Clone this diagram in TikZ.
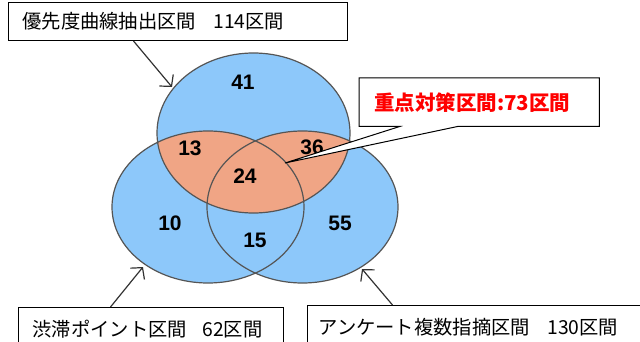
\documentclass[tikz,border=0pt]{standalone}
\usepackage{fontspec}
\setmainfont{Liberation Sans}
\newfontfamily\cjk{Noto Sans CJK JP}
\usetikzlibrary{arrows.meta}
\definecolor{vblue}{RGB}{141,200,250}
\definecolor{vpink}{RGB}{240,165,133}
\definecolor{vline}{RGB}{85,85,85}
\definecolor{arrgray}{RGB}{50,50,50}
\begin{document}
\begin{tikzpicture}[x=1pt,y=-1pt,
  lbl/.style={draw=black, line width=1pt, fill=white, inner ysep=0pt, align=left,
    font=\cjk\fontsize{19.3}{22}\selectfont, anchor=north west},
  num/.style={font=\bfseries\fontsize{21}{24}\selectfont},
  arr/.style={draw=arrgray, line width=1.2pt, -{Straight Barb[length=8pt,width=18pt]}},
  venn/.style={draw=vline, line width=1.2pt}]
\useasboundingbox (0,0) rectangle (640,342);
\clip (0,0) rectangle (640,342);
% Venn fills
\fill[vblue] (253.5,133) ellipse [x radius=96.5pt, y radius=80pt];
\fill[vblue] (208,207) ellipse [x radius=96pt, y radius=76pt];
\fill[vblue] (302.5,207) ellipse [x radius=95.5pt, y radius=76pt];
\begin{scope}
  \clip (253.5,133) ellipse [x radius=96.5pt, y radius=80pt];
  \fill[vpink] (208,207) ellipse [x radius=96pt, y radius=76pt];
  \fill[vpink] (302.5,207) ellipse [x radius=95.5pt, y radius=76pt];
\end{scope}
\draw[venn] (253.5,133) ellipse [x radius=96.5pt, y radius=80pt];
\draw[venn] (208,207) ellipse [x radius=96pt, y radius=76pt];
\draw[venn] (302.5,207) ellipse [x radius=95.5pt, y radius=76pt];
% numbers
\node[num] (n41) at (243,82) {41};
\node[num] (n13) at (190,148) {13};
\node[num] (n36) at (312,147) {36};
\node[num] (n24) at (245,176) {24};
\node[num] (n10) at (170,223) {10};
\node[num] (n15) at (255,240) {15};
\node[num] (n55) at (340,223) {55};
% label boxes
\node[lbl, inner xsep=14pt, minimum width=339pt, text width=311pt, minimum height=38pt] (tl) at (8,2) {優先度曲線抽出区間\hspace{0.9em}114区間};
\node[lbl, inner xsep=14pt, minimum width=265pt, text width=237pt, minimum height=44pt] (bl) at (18,307) {渋滞ポイント区間\hspace{0.8em}62区間};
\node[lbl, inner xsep=11pt, minimum width=360pt, text width=338pt, minimum height=44pt] (br) at (307,305) {アンケート複数指摘区間\hspace{0.9em}130区間};
% arrow tips on the ellipses
\coordinate (t1) at (172,87);
\coordinate (t2) at (143,267);
\coordinate (t3) at (362,269);
\draw[arr] ([xshift=-44.5pt]tl.south) -- (t1);
\draw[arr] ([xshift=-40.5pt]bl.north) -- (t2);
\draw[arr] ([xshift=-95pt]br.north) -- (t3);
% callout
\node[anchor=north west, minimum width=240pt, minimum height=48pt, inner sep=0pt] (cb) at (359,78) {};
\coordinate (tip) at (285,163);
\filldraw[fill=white, draw=black, line width=1pt] (cb.north west) -- (cb.north east) -- (cb.south east)
  -- ([xshift=99pt]cb.south west) -- (tip) -- ([xshift=41pt]cb.south west) -- (cb.south west) -- cycle;
\node[anchor=west, text=red, font=\cjk\bfseries\fontsize{20.5}{23}\selectfont, inner sep=0pt] (cbt) at ([xshift=15pt]cb.west) {重点対策区間:73区間};
\end{tikzpicture}
\end{document}
